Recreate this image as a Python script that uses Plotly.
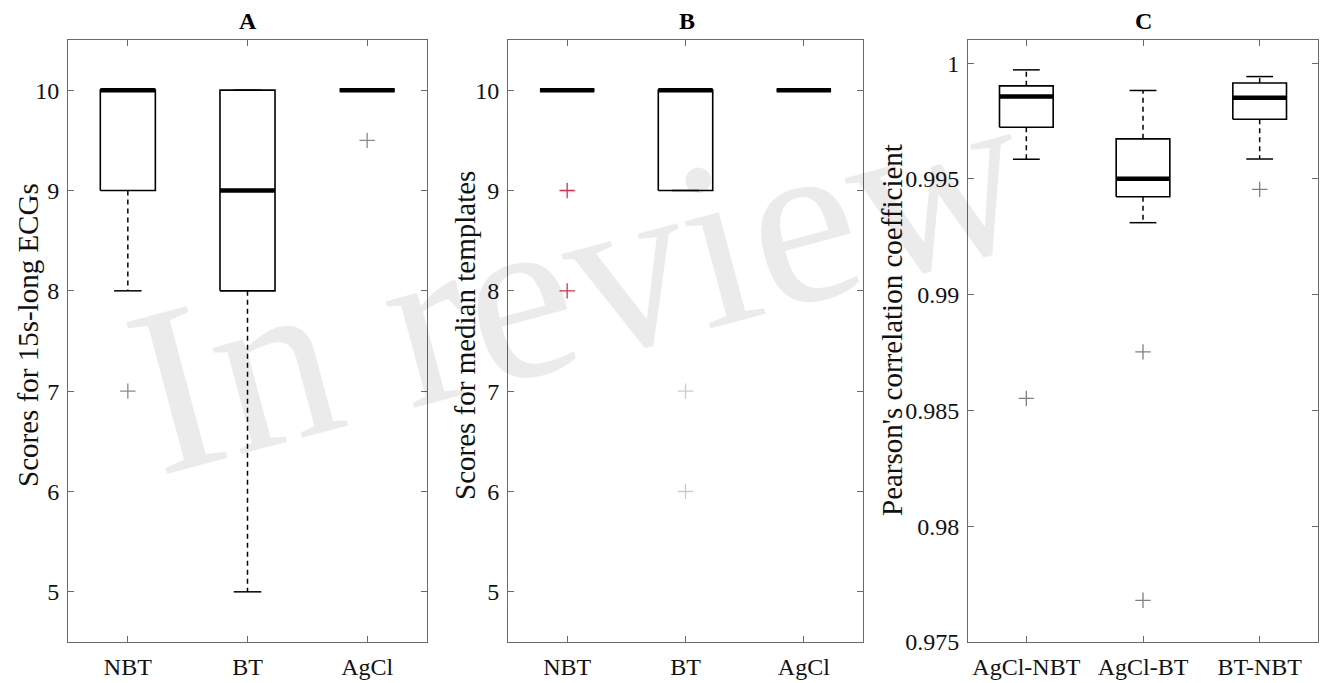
import plotly.graph_objects as go

# ---------------- data ----------------
cats_A = ["NBT", "BT", "AgCl"]
A_q1 = [9, 8, 10]
A_med = [10, 9, 10]
A_q3 = [10, 10, 10]
A_wlo = [8, 5, 10]
A_whi = [10, 10, 10]
A_out_cat = ["NBT", "AgCl"]
A_out_val = [7, 9.5]

cats_B = ["NBT", "BT", "AgCl"]
B_q1 = [10, 9, 10]
B_med = [10, 10, 10]
B_q3 = [10, 10, 10]
B_wlo = [10, 9, 10]
B_whi = [10, 10, 10]
B_out_red_cat = ["NBT", "NBT"]
B_out_red_val = [9, 8]
B_out_gray_cat = ["BT", "BT"]
B_out_gray_val = [7, 6]

cats_C = ["AgCl-NBT", "AgCl-BT", "BT-NBT"]
C_q1 = [0.99723, 0.99423, 0.99758]
C_med = [0.99856, 0.99501, 0.99851]
C_q3 = [0.99902, 0.99673, 0.99914]
C_wlo = [0.99585, 0.99311, 0.99586]
C_whi = [0.99971, 0.99882, 0.99942]
C_out_cat = ["AgCl-NBT", "AgCl-BT", "AgCl-BT", "BT-NBT"]
C_out_val = [0.98552, 0.98753, 0.97680, 0.99455]

ticks_AB = [5, 6, 7, 8, 9, 10]
ticks_C = [0.975, 0.98, 0.985, 0.99, 0.995, 1.0]
ticks_C_text = ["0.975", "0.98", "0.985", "0.99", "0.995", "1"]

panel_titles = ["A", "B", "C"]
y_titles = ["Scores for 15s-long ECGs", "Scores for median templates",
            "Pearson's correlation coefficient"]

# ---------------- style ----------------
BOX_W = 0.46
CAP_W = 0.23
FONT = "Liberation Serif, Times New Roman, serif"
TICK_SIZE = 24

fig = go.Figure()


def add_boxes(cats, q1, med, q3, wlo, whi, xa, ya):
    bx, by, wx, wy, cx, cy, mx, my = [], [], [], [], [], [], [], []
    for i, _ in enumerate(cats):
        p = i + 1
        l, r = p - BOX_W / 2, p + BOX_W / 2
        bx += [l, r, r, l, l, None]
        by += [q1[i], q1[i], q3[i], q3[i], q1[i], None]
        wx += [p, p, None, p, p, None]
        wy += [q3[i], whi[i], None, q1[i], wlo[i], None]
        cx += [p - CAP_W / 2, p + CAP_W / 2, None, p - CAP_W / 2, p + CAP_W / 2, None]
        cy += [whi[i], whi[i], None, wlo[i], wlo[i], None]
        mx += [l, r, None]
        my += [med[i], med[i], None]
    common = dict(mode="lines", xaxis=xa, yaxis=ya, showlegend=False, hoverinfo="skip")
    fig.add_trace(go.Scatter(x=wx, y=wy, line=dict(color="black", width=1.5, dash="5px,4px"), **common))
    fig.add_trace(go.Scatter(x=cx, y=cy, line=dict(color="black", width=1.5), **common))
    fig.add_trace(go.Scatter(x=bx, y=by, line=dict(color="black", width=1.6), **common))
    fig.add_trace(go.Scatter(x=mx, y=my, line=dict(color="black", width=4.5), **common))


def add_outliers(cats, out_cat, out_val, color, xa, ya):
    xs = [cats.index(c) + 1 for c in out_cat]
    fig.add_trace(go.Scatter(
        x=xs, y=out_val, mode="markers", xaxis=xa, yaxis=ya, showlegend=False,
        marker=dict(symbol="cross-thin", size=11, line=dict(color=color, width=1.3))))


add_boxes(cats_A, A_q1, A_med, A_q3, A_wlo, A_whi, "x", "y")
add_outliers(cats_A, A_out_cat, A_out_val, "#8a8a8a", "x", "y")

add_boxes(cats_B, B_q1, B_med, B_q3, B_wlo, B_whi, "x2", "y2")
add_outliers(cats_B, B_out_red_cat, B_out_red_val, "#d8304f", "x2", "y2")
add_outliers(cats_B, B_out_gray_cat, B_out_gray_val, "#cccccc", "x2", "y2")

add_boxes(cats_C, C_q1, C_med, C_q3, C_wlo, C_whi, "x3", "y3")
add_outliers(cats_C, C_out_cat, C_out_val, "#808080", "x3", "y3")

W, H = 1326, 683
x_doms = [[68 / W, 427 / W], [508 / W, 863 / W], [968 / W, 1318 / W]]
y_dom = [1 - 642 / H, 1 - 40 / H]

axis_common = dict(showline=True, linecolor="#6a6a6a", linewidth=1, mirror="ticks",
                   ticks="inside", ticklen=6, tickcolor="#6a6a6a", showgrid=False,
                   zeroline=False, automargin=False,
                   tickfont=dict(family=FONT, size=TICK_SIZE, color="#111111"))

layout = dict(
    width=W, height=H, margin=dict(l=0, r=0, t=0, b=0, autoexpand=False),
    paper_bgcolor="white", plot_bgcolor="white", showlegend=False,
)
cat_lists = [cats_A, cats_B, cats_C]
for k in range(3):
    sx = "" if k == 0 else str(k + 1)
    layout["xaxis" + sx] = dict(domain=x_doms[k], range=[0.5, 3.5], tickvals=[1, 2, 3],
                                ticktext=cat_lists[k], anchor="y" + sx,
                                ticklabelstandoff=3, **axis_common)
    if k < 2:
        layout["yaxis" + sx] = dict(domain=y_dom, range=[4.5, 10.5], tickvals=ticks_AB,
                                    anchor="x" + sx, ticklabelstandoff=3, **axis_common)
    else:
        layout["yaxis" + sx] = dict(domain=y_dom, range=[0.975, 1.001], tickvals=ticks_C,
                                    ticktext=ticks_C_text, anchor="x" + sx,
                                    ticklabelstandoff=3, **axis_common)
fig.update_layout(**layout)

# panel titles
title_x = [248, 687, 1143]
for k in range(3):
    fig.add_annotation(text="<b>%s</b>" % panel_titles[k], x=title_x[k] / W, y=1 - 21 / H,
                       xref="paper", yref="paper", showarrow=False,
                       font=dict(family=FONT, size=24, color="black"),
                       xanchor="center", yanchor="middle")

# y-axis titles
ytitle_x = [28, 465, 892]
ytitle_y = [335, 335, 330]
for k in range(3):
    fig.add_annotation(text=y_titles[k], x=ytitle_x[k] / W, y=1 - ytitle_y[k] / H,
                       xref="paper", yref="paper", showarrow=False, textangle=-90,
                       font=dict(family=FONT, size=29, color="#111111"),
                       xanchor="center", yanchor="middle")

# watermark
fig.add_annotation(text="In review", x=578 / W, y=1 - 280 / H, xref="paper", yref="paper",
                   showarrow=False, textangle=-15,
                   font=dict(family=FONT, size=240, color="rgba(0,0,0,0.08)"),
                   xanchor="center", yanchor="middle")

fig.write_html("out.html")
